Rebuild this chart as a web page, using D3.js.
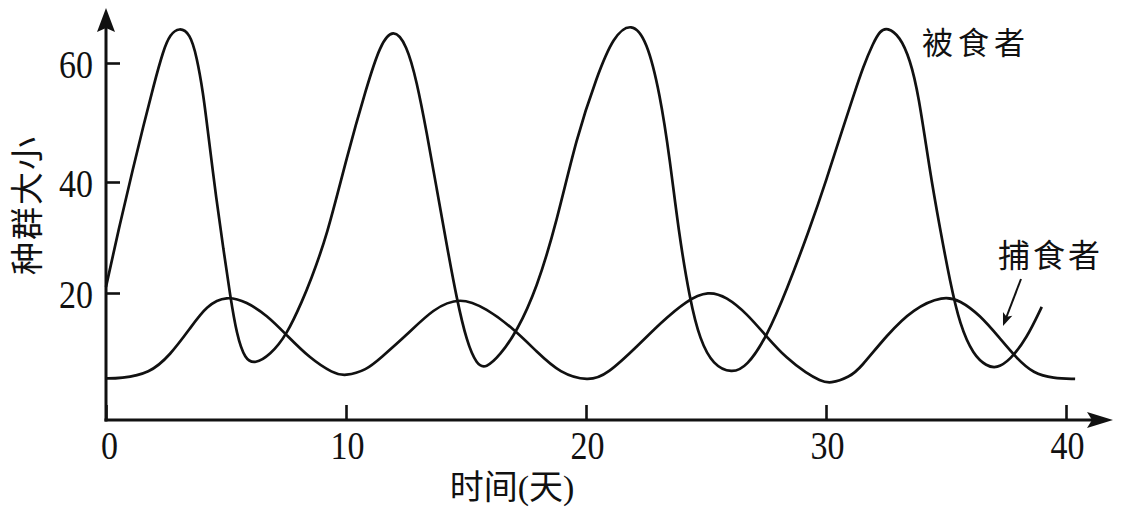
<!DOCTYPE html>
<html>
<head>
<meta charset="utf-8">
<script src="https://cdn.jsdelivr.net/npm/d3@7"></script>
<style>
  html, body { margin: 0; padding: 0; background: #fff; }
  .num { font-family: 'Liberation Serif', 'DejaVu Serif', serif; font-size: 34px; fill: #111; }
  .cjk { font-family: 'Liberation Serif', 'Noto Sans CJK SC', sans-serif; font-size: 33px; fill: #111; }
</style>
</head>
<body>
<div class="chart"></div>
<script>
// time in days, population size
var preyDays = [0, 0.58, 1.14, 1.55, 1.97, 2.39, 2.67, 3.05, 3.5, 3.78, 4.05, 4.22, 4.61, 4.89, 5.17, 5.45, 5.79, 6.21, 6.83, 7.53, 8.22, 8.5, 9.2, 10.03, 10.86, 11.42, 11.97, 12.53, 12.95, 13.36, 13.78, 14.2, 14.61, 15.03, 15.45, 15.83, 16.42, 17.11, 17.95, 18.78, 19.61, 20.45, 21.14, 21.9, 22.53, 23.08, 23.5, 23.85, 24.33, 24.75, 25.3, 26.07, 26.7, 27.53, 28.36, 29.3, 30.03, 30.72, 31.14, 31.55, 31.97, 32.25, 32.55, 33.08, 33.5, 33.85, 34.33, 34.75, 35.17, 35.58, 36.14, 36.7, 37.11, 37.67, 38.36, 38.99];
var preyCount = [21.1, 32.5, 42.5, 49.3, 56.0, 62.2, 64.8, 66.0, 65.0, 61.1, 54.9, 49.3, 36.4, 28.0, 19.6, 12.4, 8.0, 7.2, 8.8, 12.4, 19.0, 22.0, 30.1, 44.2, 56.0, 63.1, 65.9, 63.1, 56.9, 48.4, 38.8, 28.6, 19.0, 11.2, 7.0, 6.4, 8.8, 13.0, 20.8, 32.8, 47.6, 57.7, 64.5, 66.9, 63.9, 54.9, 43.7, 31.3, 18.7, 11.5, 7.0, 5.5, 6.7, 12.1, 20.5, 31.3, 40.5, 49.3, 54.4, 59.4, 63.4, 65.4, 66.0, 64.5, 60.6, 54.9, 41.7, 31.6, 22.0, 14.2, 8.8, 6.8, 6.4, 7.9, 11.8, 17.5];

var predDays = [0, 0.58, 1.83, 2.67, 3.5, 4.2, 5.03, 5.86, 6.7, 7.53, 8.5, 9.47, 9.96, 10.86, 11.42, 12.53, 13.64, 14.75, 15.86, 16.97, 17.95, 18.92, 20.1, 20.86, 22.25, 23.08, 24.2, 25.1, 25.86, 26.7, 27.53, 28.36, 29.2, 29.75, 30.17, 31.0, 31.42, 32.53, 33.64, 34.89, 35.58, 36.42, 37.25, 37.95, 38.64, 39.47, 40.38];
var predCount = [4.6, 4.6, 5.5, 8.8, 13.6, 17.8, 19.5, 18.4, 16.0, 12.4, 8.2, 5.5, 5.0, 6.1, 8.2, 12.4, 17.2, 19.3, 17.2, 13.6, 9.4, 5.5, 4.1, 5.2, 10.9, 14.5, 18.7, 20.4, 19.3, 16.3, 12.1, 8.2, 5.5, 4.2, 3.6, 4.9, 6.4, 12.4, 17.2, 19.5, 18.7, 16.0, 11.8, 8.2, 5.5, 4.6, 4.5];

var xTicks = [0, 10, 20, 30, 40];
var yTicks = [20, 40, 60];
var xTitle = '时间(天)';
var yTitle = '种群大小';
var preyName = '被食者';
var predName = '捕食者';

var svgWidth = 1124;
var svgHeight = 513;

var svg = d3.select('.chart')
  .append('svg')
  .attr('width', svgWidth)
  .attr('height', svgHeight)
  .style('display', 'block');

svg.append('rect').attr('width', svgWidth).attr('height', svgHeight).attr('fill', '#fff');

// x: days; y: hand drawn axis has slightly uneven tick spacing
var x = d3.scaleLinear().domain([0, 40]).range([106, 1066]);
var y = d3.scaleLinear().domain([-2.9, 20, 40, 60]).range([420, 293, 182, 63]);

var axisY0 = y(-2.9);
var axisX0 = x(0);

// axes
var bottom = d3.axisBottom(x).tickValues(xTicks).tickSize(-15).tickSizeOuter(0);
var left = d3.axisLeft(y).tickValues(yTicks).tickSize(-14).tickSizeOuter(0);

var gx = svg.append('g')
  .attr('transform', 'translate(0,' + axisY0 + ')')
  .call(bottom);
gx.select('.domain').remove();
gx.selectAll('line').attr('stroke', '#111').attr('stroke-width', 2.6);
gx.selectAll('text')
  .attr('class', 'num')
  .attr('fill', null)
  .attr('font-size', null)
  .attr('font-family', null)
  .attr('y', null)
  .attr('dy', null)
  .attr('transform', function(d) { return 'translate(' + (d === 0 ? 3 : 1) + ',39) scale(1,1.16)'; });

var gy = svg.append('g')
  .attr('transform', 'translate(' + axisX0 + ',0)')
  .call(left);
gy.select('.domain').remove();
gy.selectAll('line').attr('stroke', '#111').attr('stroke-width', 2.6);
gy.selectAll('text')
  .attr('class', 'num')
  .attr('fill', null)
  .attr('font-size', null)
  .attr('font-family', null)
  .attr('x', null)
  .attr('dy', null)
  .attr('transform', 'translate(-13,14) scale(1,1.16)');

// axis lines with arrow heads
svg.append('line')
  .attr('x1', axisX0).attr('y1', axisY0 + 1.5)
  .attr('x2', axisX0).attr('y2', 22)
  .attr('stroke', '#111').attr('stroke-width', 3);
svg.append('path')
  .attr('d', 'M0,0 L-9,24 L0,20 L9,24 Z')
  .attr('transform', 'translate(' + axisX0 + ',8)')
  .attr('fill', '#111');

svg.append('line')
  .attr('x1', axisX0 - 1.5).attr('y1', axisY0)
  .attr('x2', 1098).attr('y2', axisY0)
  .attr('stroke', '#111').attr('stroke-width', 3);
svg.append('path')
  .attr('d', 'M0,0 L-26,-8 L-21,0 L-26,8 Z')
  .attr('transform', 'translate(1113,' + axisY0 + ')')
  .attr('fill', '#111');

// curves (B-spline smooths out small reading errors)
var line = d3.line()
  .x(function(d) { return x(d[0]); })
  .y(function(d) { return y(d[1]); })
  .curve(d3.curveBasis);

var prey = d3.zip(preyDays, preyCount);
var pred = d3.zip(predDays, predCount);

svg.append('path')
  .datum(prey)
  .attr('d', line)
  .attr('fill', 'none')
  .attr('stroke', '#111')
  .attr('stroke-width', 2.7)
  .attr('stroke-linejoin', 'round');

svg.append('path')
  .datum(pred)
  .attr('d', line)
  .attr('fill', 'none')
  .attr('stroke', '#111')
  .attr('stroke-width', 2.7)
  .attr('stroke-linejoin', 'round');

// titles
svg.append('text')
  .attr('class', 'cjk')
  .attr('text-anchor', 'middle')
  .attr('transform', 'translate(39,205) rotate(-90)')
  .attr('letter-spacing', 2)
  .text(yTitle);

svg.append('text')
  .attr('class', 'cjk')
  .attr('text-anchor', 'middle')
  .attr('x', 512)
  .attr('y', 499)
  .style('font-size', '34px')
  .text(xTitle);

// series labels
svg.append('text')
  .attr('class', 'cjk')
  .attr('x', 922)
  .attr('y', 54)
  .style('font-size', '31px')
  .attr('letter-spacing', 5)
  .text(preyName);

svg.append('text')
  .attr('class', 'cjk')
  .attr('x', 998)
  .attr('y', 267)
  .style('font-size', '32px')
  .attr('letter-spacing', 3)
  .text(predName);

// pointer to predator curve
var p0 = [1021, 279], p1 = [1003, 326];
var ang = Math.atan2(p1[1] - p0[1], p1[0] - p0[0]) * 180 / Math.PI;
svg.append('line')
  .attr('x1', p0[0]).attr('y1', p0[1])
  .attr('x2', p1[0] - 4 * Math.cos(ang * Math.PI / 180))
  .attr('y2', p1[1] - 4 * Math.sin(ang * Math.PI / 180))
  .attr('stroke', '#111').attr('stroke-width', 2);
svg.append('path')
  .attr('d', 'M0,0 L-13,-5 L-10,0 L-13,5 Z')
  .attr('transform', 'translate(' + p1[0] + ',' + p1[1] + ') rotate(' + ang + ')')
  .attr('fill', '#111');
</script>
</body>
</html>
